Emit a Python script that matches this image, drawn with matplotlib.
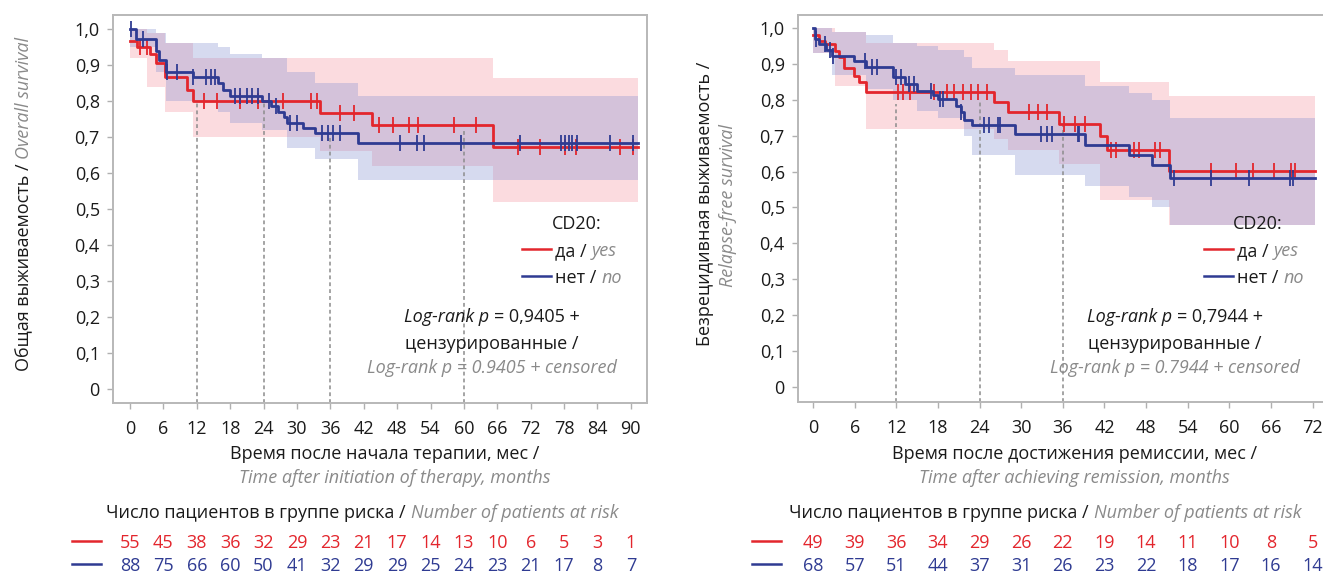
import matplotlib
matplotlib.use("Agg")
import matplotlib.pyplot as plt
from matplotlib.lines import Line2D
from matplotlib.transforms import IdentityTransform, blended_transform_factory
import numpy as np

plt.rcParams['font.family'] = ['Open Sans', 'DejaVu Sans']

RED = '#e3262d'
BLUE = '#2f3b92'
GREY = '#8a8a8a'
FS = 13

# ---------- overall survival (left) ----------
os_ticks = list(range(0, 91, 6))
os_yes_t = [0, 1.2, 3.6, 4.7, 6.3, 10.2, 11.3, 34.2, 43.5, 65.2, 91.3]
os_yes_s = [0.967, 0.95, 0.93, 0.905, 0.867, 0.83, 0.80, 0.767, 0.733, 0.672, 0.672]
os_yes_cens = [1.8, 3.1, 13.3, 15.6, 19.8, 23.0, 27.5, 32.6, 33.6, 37.7, 40.3, 44.8, 47.3,
               50.2, 51.8, 58.3, 62.1, 69.8, 73.6, 78.1, 80.1, 88.1, 90.3]
os_no_t = [0, 1.0, 4.6, 5.3, 6.5, 11.3, 15.8, 16.8, 18.0, 23.7, 25.3, 26.6, 27.6, 28.3,
           31.0, 33.3, 41.0, 91.3]
os_no_s = [1.0, 0.972, 0.94, 0.915, 0.88, 0.867, 0.85, 0.83, 0.814, 0.80, 0.785, 0.77,
           0.755, 0.74, 0.725, 0.71, 0.682, 0.682]
os_no_cens = [0.2, 2.4, 6.6, 8.5, 11.4, 13.7, 14.6, 15.3, 18.8, 19.8, 21.0, 22.0, 23.0, 24.9,
              26.2, 28.7, 30.0, 34.5, 35.5, 36.4, 37.7, 48.6, 51.5, 52.8, 59.5, 70.1, 77.5,
              78.1, 78.8, 79.4, 80.4, 86.2, 90.3]
os_yes_band_t = [0, 3, 6.3, 11.3, 34.2, 43.5, 65.2, 91.3]
os_yes_band_hi = [1.0, 0.99, 0.96, 0.92, 0.92, 0.92, 0.865, 0.865]
os_yes_band_lo = [0.92, 0.84, 0.77, 0.70, 0.66, 0.62, 0.52, 0.52]
os_no_band_t = [0, 4.6, 6.5, 15.8, 18.0, 23.7, 28.3, 33.3, 41.0, 91.3]
os_no_band_hi = [1.0, 0.99, 0.96, 0.95, 0.93, 0.92, 0.88, 0.85, 0.815, 0.815]
os_no_band_lo = [0.95, 0.88, 0.80, 0.77, 0.74, 0.72, 0.67, 0.64, 0.58, 0.58]
os_marks = [12, 24, 36, 60]
os_mark_top = [0.80, 0.80, 0.71, 0.72]
os_risk_yes = [55, 45, 38, 36, 32, 29, 23, 21, 17, 14, 13, 10, 6, 5, 3, 1]
os_risk_no = [88, 75, 66, 60, 50, 41, 32, 29, 29, 25, 24, 23, 21, 17, 8, 7]

# ---------- relapse-free survival (right) ----------
rfs_ticks = list(range(0, 73, 6))
rfs_yes_t = [0, 0.9, 1.7, 3.2, 3.7, 4.4, 5.9, 6.7, 7.7, 26.1, 28.1, 35.4, 41.4, 42.3, 51.3, 72.3]
rfs_yes_s = [0.98, 0.965, 0.955, 0.937, 0.92, 0.89, 0.868, 0.85, 0.821, 0.794, 0.766, 0.733,
             0.70, 0.66, 0.602, 0.602]
rfs_yes_cens = [12.2, 13.0, 14.0, 17.5, 19.3, 20.3, 21.6, 22.8, 23.8, 25.1, 31.1, 32.4, 33.7,
                36.2, 37.7, 39.2, 43.0, 43.7, 46.2, 47.0, 49.3, 50.0, 57.3, 60.9, 63.4, 66.4,
                68.9, 69.4]
rfs_no_t = [0, 0.3, 0.9, 1.9, 2.7, 5.9, 7.7, 11.5, 13.2, 15.0, 17.3, 18.0, 20.6, 21.3, 21.7,
            22.9, 29.1, 39.2, 45.5, 48.8, 51.5, 72.3]
rfs_no_s = [1.0, 0.97, 0.955, 0.94, 0.923, 0.909, 0.891, 0.863, 0.844, 0.826, 0.814, 0.803,
            0.784, 0.765, 0.745, 0.729, 0.706, 0.673, 0.645, 0.618, 0.583, 0.583]
rfs_no_cens = [0.4, 1.7, 2.4, 2.9, 7.5, 8.5, 9.2, 12.0, 12.7, 13.8, 14.5, 17.0, 18.3, 18.8,
               21.3, 24.6, 25.3, 26.6, 26.9, 32.9, 33.7, 34.4, 38.2, 38.4, 52.0, 57.3, 62.9,
               68.7, 69.2]
rfs_yes_band_t = [0, 3.2, 7.7, 26.1, 28.1, 35.4, 41.4, 51.3, 72.3]
rfs_yes_band_hi = [1.0, 0.99, 0.96, 0.94, 0.91, 0.91, 0.85, 0.81, 0.81]
rfs_yes_band_lo = [0.93, 0.84, 0.72, 0.69, 0.66, 0.62, 0.52, 0.45, 0.45]
rfs_no_band_t = [0, 2.7, 7.7, 11.5, 15.0, 18.0, 21.7, 22.9, 29.1, 39.2, 45.5, 48.8, 51.5, 72.3]
rfs_no_band_hi = [1.0, 0.99, 0.98, 0.96, 0.95, 0.94, 0.92, 0.89, 0.87, 0.84, 0.82, 0.80, 0.75, 0.75]
rfs_no_band_lo = [0.93, 0.87, 0.83, 0.80, 0.77, 0.75, 0.70, 0.645, 0.59, 0.56, 0.53, 0.50, 0.45, 0.45]
rfs_marks = [12, 24, 36]
rfs_mark_top = [0.79, 0.80, 0.73]
rfs_risk_yes = [49, 39, 36, 34, 29, 26, 22, 19, 14, 11, 10, 8, 5]
rfs_risk_no = [68, 57, 51, 44, 37, 31, 26, 23, 22, 18, 17, 16, 14]

W, H = 1323, 575
fig = plt.figure(figsize=(W / 100, H / 100), dpi=100)
PX = IdentityTransform()


def box(x0, y0, x1, y1):
    return [x0 / W, 1 - y1 / H, (x1 - x0) / W, (y1 - y0) / H]


def step_at(t, s, x):
    idx = np.searchsorted(t, x, side='right') - 1
    return np.asarray(s)[idx]


def rich(x, y, parts, ha='center', rot=0, size=FS, gap=5):
    # several text pieces in a row, x/y in image pixels (y down)
    r = fig.canvas.get_renderer()
    objs = []
    for s, color, style in parts:
        objs.append(fig.text(0, 0, s, transform=PX, fontsize=size, color=color, style=style,
                             rotation=rot, rotation_mode='anchor', ha='left',
                             va='center_baseline'))
    ext = [o.get_window_extent(r) for o in objs]
    sizes = [e.height if rot else e.width for e in ext]
    total = sum(sizes) + gap * (len(objs) - 1)
    pos = -total / 2 if ha == 'center' else 0
    for o, sz in zip(objs, sizes):
        if rot:
            o.set_position((x, H - y + pos))
        else:
            o.set_position((x + pos, H - y))
        pos += sz + gap


def panel(ax, ticks, xlim, ylim, yes, no, yes_band, no_band, yes_cens, no_cens, marks, mark_top):
    ax.fill_between(yes_band[0], yes_band[1], yes_band[2], step='post', color='#f48a95',
                    alpha=0.3, lw=0)
    ax.fill_between(no_band[0], no_band[1], no_band[2], step='post', color='#8c96d2',
                    alpha=0.35, lw=0)
    for x, top in zip(marks, mark_top):
        ax.plot([x, x], [ylim[0], top], ls=(0, (2.5, 2)), color='#8c8c8c', lw=1.1)
    for (t, s), cens, c in ((yes, yes_cens, RED), (no, no_cens, BLUE)):
        ax.step(t, s, where='post', color=c, lw=2.0)
        ax.plot(cens, step_at(t, s, cens), ls='none', marker='|', ms=11, mew=1.3, color=c)
    ax.set_xlim(xlim)
    ax.set_ylim(ylim)
    ax.set_xticks(ticks)
    yt = np.round(np.arange(0, 1.01, 0.1), 1)
    ax.set_yticks(yt)
    ax.set_yticklabels(['0'] + [f'{v:.1f}'.replace('.', ',') for v in yt[1:]])
    ax.tick_params(direction='out', length=4.5, width=1, color='#b0b0b0', labelsize=FS,
                   labelcolor='#1a1a1a')
    ax.tick_params(axis='x', pad=8)
    ax.tick_params(axis='y', pad=5)
    for sp in ax.spines.values():
        sp.set_color('#b8b8b8')
        sp.set_linewidth(1.4)


ax1 = fig.add_axes(box(113, 15, 647, 403))
ax2 = fig.add_axes(box(798, 15, 1330, 402))

panel(ax1, os_ticks, (-3.05, 92.9), (-0.039, 1.039),
      (os_yes_t, os_yes_s), (os_no_t, os_no_s),
      (os_yes_band_t, os_yes_band_lo, os_yes_band_hi),
      (os_no_band_t, os_no_band_lo, os_no_band_hi),
      os_yes_cens, os_no_cens, os_marks, os_mark_top)
panel(ax2, rfs_ticks, (-2.16, 74.5), (-0.043, 1.037),
      (rfs_yes_t, rfs_yes_s), (rfs_no_t, rfs_no_s),
      (rfs_yes_band_t, rfs_yes_band_lo, rfs_yes_band_hi),
      (rfs_no_band_t, rfs_no_band_lo, rfs_no_band_hi),
      rfs_yes_cens, rfs_no_cens, rfs_marks, rfs_mark_top)

# axis titles
rich(22, 204, [('Общая выживаемость /', '#1a1a1a', 'normal'),
               ('Overall survival', GREY, 'italic')], rot=90)
fig.text(705 / W, 1 - 204 / H, 'Безрецидивная выживаемость /', rotation=90, ha='center',
         va='center', fontsize=FS, color='#1a1a1a')
fig.text(728 / W, 1 - 206 / H, 'Relapse-free survival', rotation=90, ha='center',
         va='center', fontsize=FS, color=GREY, style='italic')

fig.text(385 / W, 1 - 452 / H, 'Время после начала терапии, мес /', ha='center',
         va='center_baseline', fontsize=FS, color='#1a1a1a')
fig.text(395 / W, 1 - 476 / H, 'Time after initiation of therapy, months', ha='center',
         va='center_baseline', fontsize=FS, color=GREY, style='italic')
fig.text(1075 / W, 1 - 452 / H, 'Время после достижения ремиссии, мес /', ha='center',
         va='center_baseline', fontsize=FS, color='#1a1a1a')
fig.text(1074 / W, 1 - 476 / H, 'Time after achieving remission, months', ha='center',
         va='center_baseline', fontsize=FS, color=GREY, style='italic')

# legends and log-rank notes
for cx, lx, mx, p in ((577, 522, 492, '0,9405'), (1258, 1204, 1175, '0,7944')):
    fig.text(cx / W, 1 - 222 / H, 'CD20:', ha='center', va='center_baseline', fontsize=FS,
             color='#1a1a1a')
    for yy, c, ru, en in ((249, RED, 'да /', 'yes'), (276, BLUE, 'нет /', 'no')):
        fig.add_artist(Line2D([lx, lx + 29], [H - yy, H - yy], transform=PX, color=c, lw=1.8))
        rich(lx + 33, yy, [(ru, '#1a1a1a', 'normal'), (en, GREY, 'italic')], ha='left')
    rich(mx, 315, [('Log-rank p', '#1a1a1a', 'italic'), ('= ' + p + ' +', '#1a1a1a', 'normal')])
    fig.text(mx / W, 1 - 342 / H, 'цензурированные /', ha='center', va='center_baseline',
             fontsize=FS, color='#1a1a1a')
    fig.text(mx / W, 1 - 366 / H, 'Log-rank p = ' + p.replace(',', '.') + ' + censored',
             ha='center', va='center_baseline', fontsize=FS, color=GREY, style='italic')

# numbers at risk
for ax, cx, lx, ticks, ry, rn in ((ax1, 362, 72, os_ticks, os_risk_yes, os_risk_no),
                                  (ax2, 1045, 752, rfs_ticks, rfs_risk_yes, rfs_risk_no)):
    rich(cx, 511, [('Число пациентов в группе риска /', '#1a1a1a', 'normal'),
                   ('Number of patients at risk', GREY, 'italic')])
    tr = blended_transform_factory(ax.transData, PX)
    for yy, c, vals in ((541, RED, ry), (564, BLUE, rn)):
        fig.add_artist(Line2D([lx, lx + 29], [H - yy, H - yy], transform=PX, color=c, lw=1.8))
        for m, v in zip(ticks, vals):
            ax.text(m, H - yy, str(v), transform=tr, ha='center', va='center_baseline',
                    fontsize=FS, color=c, clip_on=False)

fig.savefig('out.png', dpi=100)
